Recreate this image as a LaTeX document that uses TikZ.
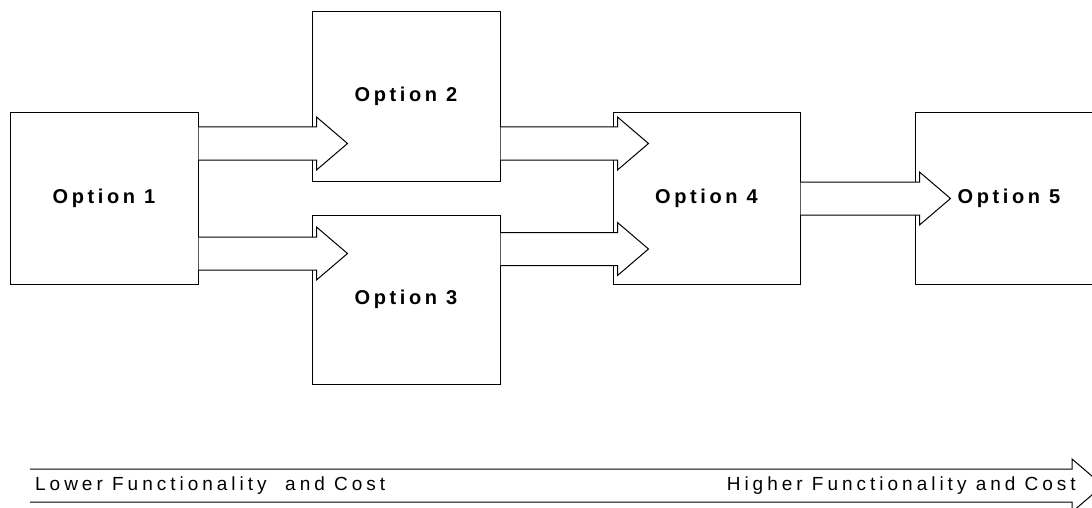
\documentclass[tikz,border=0pt]{standalone}
\usepackage{fontspec}
\setmainfont{Liberation Sans}
\newfontfamily\optfont[LetterSpace=18]{Liberation Sans Bold}
\newfontfamily\scalefont[LetterSpace=21]{Liberation Sans}
\usetikzlibrary{calc}

\tikzset{
  optbox/.style={draw, line width=1pt, fill=white, inner sep=0pt,
    minimum width=188, minimum height=171,
    font=\optfont\fontsize{20}{24}\selectfont},
  fatarrow/.style={draw, line width=1pt, fill=white, line join=miter},
  scalelabel/.style={inner sep=0pt, font=\scalefont\fontsize{19}{23}\selectfont}
}

% block arrow from the east side of #1 to just past the west side of #2, centred on height #3
\newcommand\blockarrow[3]{%
  \coordinate (bt) at (#1.east |- 0,#3);
  \coordinate (bh) at ([xshift=5]#2.west |- 0,#3);
  \draw[fatarrow] ($(bt)+(0,-16.5)$) -- ($(bh)+(0,-16.5)$) -- ($(bh)+(0,-26.5)$)
    -- ($(bh)+(31,0)$) -- ($(bh)+(0,26.5)$) -- ($(bh)+(0,16.5)$) -- ($(bt)+(0,16.5)$);
}

\begin{document}
\begin{tikzpicture}[x=1pt, y=-1pt]
  \useasboundingbox (0,0) rectangle (1092,508);
  \clip (0,0) rectangle (1092,508);

  % option boxes
  \node[optbox] (o1) at (104,198.5) {Option 1};
  \node[optbox, minimum height=169] (o2) at (406,96.5) {Option 2};
  \node[optbox, minimum height=169] (o3) at (406,299.5) {Option 3};
  \node[optbox, minimum width=187] (o4) at (706.5,198.5) {Option 4};
  \node[optbox] (o5) at (1009,198.5) {Option 5};

  % progression arrows between the options
  \blockarrow{o1}{o2}{143.5}
  \blockarrow{o1}{o3}{253.5}
  \blockarrow{o2}{o4}{143.5}
  \blockarrow{o3}{o4}{249}
  \blockarrow{o4}{o5}{198.5}

  % functionality / cost scale
  \coordinate (low) at (30,485.5);
  \coordinate (high) at (1072,485.5);
  \draw[fatarrow] ($(low)+(0,-16.5)$) -- ($(high)+(0,-16.5)$) -- ($(high)+(0,-26.5)$)
    -- ($(high)+(31,0)$) -- ($(high)+(0,26.5)$) -- ($(high)+(0,16.5)$) -- ($(low)+(0,16.5)$);
  \node[scalelabel, anchor=west] (lowtext) at ($(low)+(5,0)$) {Lower Functionality \ and Cost};
  \node[scalelabel, anchor=east] (hightext) at ($(high)+(4,0)$) {Higher Functionality and Cost};
\end{tikzpicture}
\end{document}
